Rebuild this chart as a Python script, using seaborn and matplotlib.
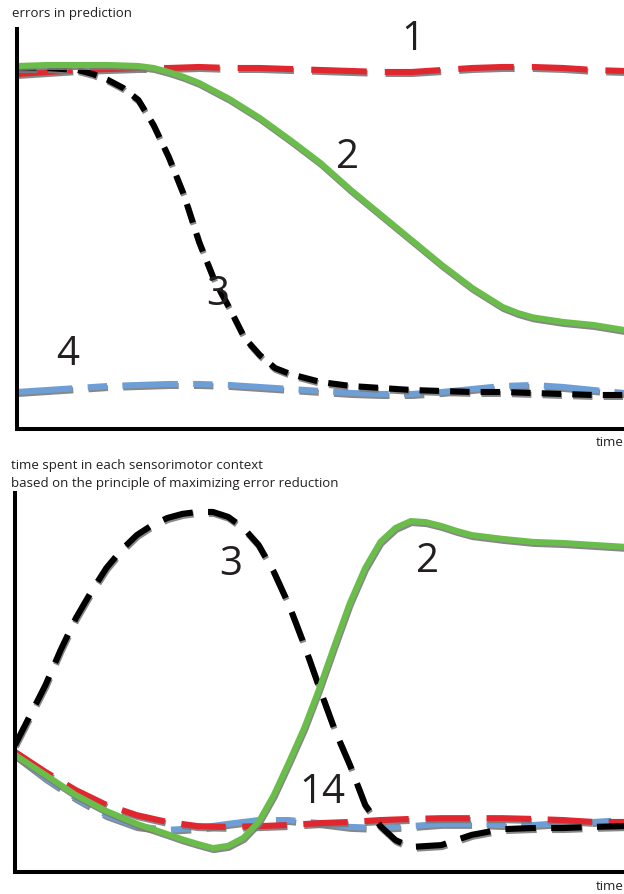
import matplotlib
matplotlib.use("Agg")
import matplotlib.pyplot as plt
import matplotlib.patheffects as pe
import seaborn as sns

# ---------------- data (time 0-100, value 0-100) ----------------
# top panel: errors in prediction
t_top = [0, 5, 10, 15, 20, 25, 30, 35, 40, 45, 50, 55, 60, 65, 70, 75, 80, 85, 90, 95, 100]
err_1 = [88.75, 89.25, 89.75, 90, 90.25, 90.25, 90.5, 90.25, 90.25, 90, 89.75,
         89.5, 89.25, 89.25, 89.75, 90.25, 90.5, 90.5, 90.25, 89.75, 89.5]
t_err_2 = [0, 5, 10, 15, 20, 22.5, 25, 27.5, 30, 35, 40, 45, 50, 55, 60, 65, 70,
           75, 80, 82.5, 85, 90, 95, 100]
err_2 = [90.75, 91, 91, 91, 90.75, 90.25, 89.25, 88, 86.5, 82.5, 77.75, 72.25,
         66.5, 59.75, 53.5, 47.25, 41, 35.25, 30.5, 29, 27.9, 26.75, 26, 24.75]
t_err_3 = [0, 5, 10, 12.5, 15, 17.5, 20, 22.5, 25, 27.5, 30, 32.5, 35, 37.5, 40,
           42.5, 45, 50, 55, 60, 65, 70, 75, 80, 85, 90, 95, 100]
err_3 = [90.25, 90.25, 89.75, 88.75, 87.25, 85.25, 82.25, 76, 68, 58.5, 46.75,
         37.25, 30.25, 22.75, 18.5, 15.25, 13.75, 11.75, 10.75, 10.25, 9.75,
         9.5, 9.25, 9.25, 9, 8.75, 8.5, 8.5]
err_4 = [9.25, 9.75, 10.25, 10.75, 11, 11.25, 11.25, 11, 10.5, 10, 9.5,
         9, 8.75, 8.75, 9.25, 10, 10.75, 11, 10.5, 9.75, 9]

# bottom panel: time spent in each sensorimotor context
t_bot = [0, 5, 10, 15, 20, 25, 30, 35, 40, 45, 50, 55, 60, 65, 70, 75, 80, 85, 90, 95, 100]
spent_1 = [31.7, 26.4, 21.6, 17.7, 15, 13.2, 12.1, 11.9, 12.1, 12.4, 12.9,
           13.2, 13.7, 14, 14.2, 14.2, 14.2, 14, 13.7, 13.2, 13.2]
t_spent_2 = [0, 5, 10, 15, 20, 25, 27.5, 30, 32.5, 35, 37.5, 40, 42.5, 45, 47.5,
             50, 52.5, 55, 57.5, 60, 62.5, 65, 67.5, 70, 72.5, 75, 80, 85, 90, 95, 100]
spent_2 = [30.9, 25.6, 20.3, 16.1, 12.7, 10, 8.6, 7.4, 6.3, 6.9, 9, 13.2, 20.3,
           29, 38, 48.5, 59.9, 71, 80.2, 87.1, 90.8, 92.6, 92.3, 91.3, 90, 88.9,
           87.9, 87.1, 86.8, 86.3, 85.8]
t_spent_3 = [0, 2.5, 5, 7.5, 10, 12.5, 15, 17.5, 20, 22.5, 25, 27.5, 30, 32.5, 35,
             37.5, 40, 42.5, 45, 47.5, 50, 52.5, 55, 57.5, 60, 62.5, 65, 70, 75,
             80, 85, 90, 95, 100]
spent_3 = [33.5, 41.4, 49.3, 58.6, 67, 73.9, 80.2, 85, 88.9, 91.5, 93.4, 94.5,
           95, 95, 93.7, 90.8, 86.3, 79.2, 70.4, 59.9, 48.5, 37.5, 28.2, 17.7,
           12.1, 8.4, 6.6, 7.1, 9.8, 11.3, 11.6, 11.6, 11.9, 12.1]
spent_4 = [30.9, 24.8, 19.5, 15, 12.1, 11.1, 11.6, 12.7, 13.7, 13.7, 12.9,
           11.9, 11.6, 12.1, 12.7, 12.7, 12.4, 12.4, 12.9, 13.2, 13.7]

labels_top = ["1", "2", "3", "4"]
labels_bot = ["3", "2", "14"]
title_top = "errors in prediction"
title_bot = ["time spent in each sensorimotor context",
             "based on the principle of maximizing error reduction"]
xlabel = "time"

# ---------------- style ----------------
sns.set_style("white")
plt.rcParams['font.family'] = ['Open Sans', 'DejaVu Sans']
plt.rcParams['lines.scale_dashes'] = False

RED = "#e0262f"
GREEN = "#6abd4a"
BLUE = "#6d9fd6"
BLACK = "#000000"
TXT = "#231f20"
LW = 4.4

shadow = [pe.SimpleLineShadow(offset=(0.6, -1.4), shadow_color="#7a7a7a", alpha=0.9),
          pe.Normal()]

W, H = 624, 894
fig = plt.figure(figsize=(W / 100, H / 100), dpi=100)


def px_axes(x0, y0, x1, y1):
    return fig.add_axes([x0 / W, 1 - y1 / H, (x1 - x0) / W, (y1 - y0) / H])


ax1 = px_axes(17, 29, 624, 429)
ax2 = px_axes(15, 493, 624, 872)


def draw(ax, x, y, color, ls):
    sns.lineplot(x=x, y=y, ax=ax, color=color, linewidth=LW, linestyle=ls,
                 estimator=None, sort=False)
    ln = ax.lines[-1]
    ln.set_dash_capstyle("butt")
    ln.set_solid_capstyle("butt")
    ln.set_solid_joinstyle("round")
    ln.set_dash_joinstyle("round")
    ln.set_path_effects(shadow)
    return ln


# top panel
draw(ax1, t_top, err_1, RED, (0, (40, 13)))
draw(ax1, t_top, err_4, BLUE, (0, (40, 11, 14, 11)))
draw(ax1, t_err_3, err_3, BLACK, (0, (14, 8)))
draw(ax1, t_err_2, err_2, GREEN, "-")

# bottom panel
draw(ax2, t_bot, spent_4, BLUE, (0, (40, 11, 14, 11)))
draw(ax2, t_bot, spent_1, RED, (0, (32, 12)))
draw(ax2, t_spent_3, spent_3, BLACK, (0, (22, 11)))
draw(ax2, t_spent_2, spent_2, GREEN, "-")

for ax in (ax1, ax2):
    ax.set_xlim(0, 100)
    ax.set_ylim(0, 100)
    ax.set_xticks([])
    ax.set_yticks([])
    ax.set_xlabel("")
    ax.set_ylabel("")
    for s in ("top", "right"):
        ax.spines[s].set_visible(False)
    for s in ("left", "bottom"):
        ax.spines[s].set_linewidth(2.9)
        ax.spines[s].set_color("black")
        ax.spines[s].set_capstyle("projecting")
    ax.patch.set_alpha(0)

big = dict(fontsize=29, color=TXT, ha="center", va="center")
ax1.text(65.2, 97.25, labels_top[0], **big)
ax1.text(54.4, 67.75, labels_top[1], **big)
ax1.text(33.1, 33.5, labels_top[2], **big)
ax1.text(8.4, 18.5, labels_top[3], **big)

ax2.text(35.4, 81, labels_bot[0], **big)
ax2.text(67.8, 81.8, labels_bot[1], **big)
ax2.text(50.4, 20.8, labels_bot[2], **big)

small = dict(fontsize=9.5, color=TXT, va="center", ha="left")
fig.text(12 / W, 1 - 14 / H, title_top, **small)
fig.text(11 / W, 1 - 466 / H, title_bot[0], **small)
fig.text(11 / W, 1 - 483 / H, title_bot[1], **small)
fig.text(624 / W, 1 - 443 / H, xlabel, fontsize=9.5, color=TXT, va="center", ha="right")
fig.text(624 / W, 1 - 886 / H, xlabel, fontsize=9.5, color=TXT, va="center", ha="right")

fig.savefig("out.png", dpi=100)
